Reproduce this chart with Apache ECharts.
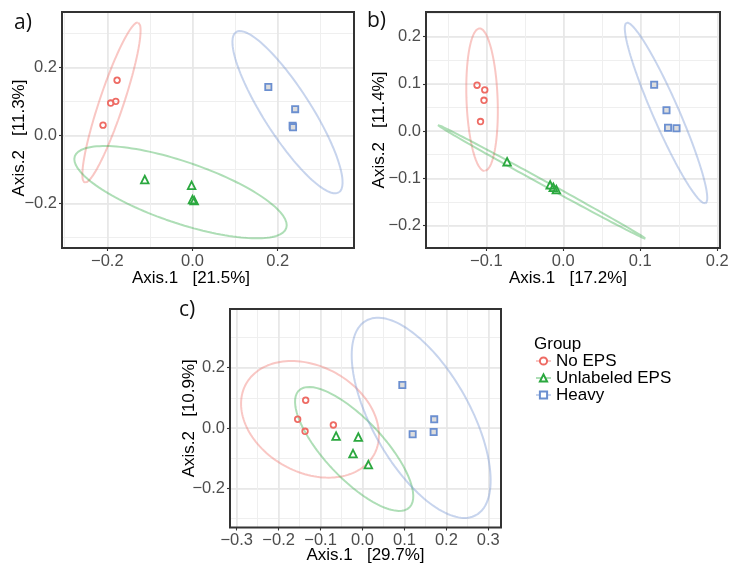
<!DOCTYPE html>
<html>
<head>
<meta charset="utf-8">
<script src="https://cdn.jsdelivr.net/npm/echarts@6/dist/echarts.min.js"></script>
<style>
  html, body { margin: 0; padding: 0; background: #ffffff; }
  #chart { width: 730px; height: 570px; }
</style>
</head>
<body>
<div id="chart"></div>
<script>
// ---- Groups ----
const groupNames = ['No EPS', 'Unlabeled EPS', 'Heavy'];

// ---- Panel a) sample scores [Axis.1, Axis.2] ----
const aNoEPS        = [[-0.177, 0.163], [-0.180, 0.101], [-0.192, 0.096], [-0.210, 0.031]];
const aUnlabeledEPS = [[-0.112, -0.129], [-0.002, -0.146], [0.000, -0.188], [0.004, -0.191]];
const aHeavy        = [[0.178, 0.143], [0.241, 0.078], [0.235, 0.029], [0.236, 0.025]];

// ---- Panel b) sample scores ----
const bNoEPS        = [[-0.112, 0.097], [-0.102, 0.087], [-0.103, 0.065], [-0.1075, 0.020]];
const bUnlabeledEPS = [[-0.073, -0.065], [-0.017, -0.114], [-0.013, -0.119], [-0.009, -0.124]];
const bHeavy        = [[0.118, 0.098], [0.134, 0.044], [0.136, 0.007], [0.147, 0.006]];

// ---- Panel c) sample scores ----
const cNoEPS        = [[-0.1355, 0.092], [-0.1546, 0.029], [-0.137, -0.011], [-0.0695, 0.010]];
const cUnlabeledEPS = [[-0.063, -0.0265], [-0.010, -0.030], [-0.0226, -0.085], [0.014, -0.1215]];
const cHeavy        = [[0.095, 0.1425], [0.1196, -0.021], [0.171, 0.0287], [0.1697, -0.0133]];

// ---- 95% ellipses: [centre x, centre y, semi-axis 1 dx, dy, semi-axis 2 dx, dy] ----
const aNoEPSEllipse        = [-0.1902, 0.0975, 0.0629, 0.2355, 0.0268, -0.0113];
const aUnlabeledEPSEllipse = [-0.0281, -0.1662, 0.2482, -0.1055, -0.0231, -0.0855];
const aHeavyEllipse        = [0.2230, 0.0691, 0.1206, -0.2358, -0.0466, -0.0375];
const bNoEPSEllipse        = [-0.1055, 0.0663, 0.00339, -0.1509, -0.0202, -0.0012];
const bUnlabeledEPSEllipse = [-0.0281, -0.1076, 0.1347, -0.1203, -0.00145, -0.00433];
const bHeavyEllipse        = [0.1334, 0.0381, 0.0513, -0.1909, -0.0154, -0.0111];
const cNoEPSEllipse        = [-0.1252, 0.0287, 0.1527, -0.1172, -0.0610, -0.1538];
const cUnlabeledEPSEllipse = [-0.0199, -0.0696, 0.1314, -0.1944, -0.0511, -0.0668];
const cHeavyEllipse        = [0.1399, 0.0337, 0.1314, -0.3223, -0.1009, -0.0796];

// ---- Axis titles and tick labels ----
const aXTitle = 'Axis.1   [21.5%]';
const aYTitle = 'Axis.2   [11.3%]';
const bXTitle = 'Axis.1   [17.2%]';
const bYTitle = 'Axis.2   [11.4%]';
const cXTitle = 'Axis.1   [29.7%]';
const cYTitle = 'Axis.2   [10.9%]';
const aXTicks = [-0.2, 0.0, 0.2];
const aYTicks = [-0.2, 0.0, 0.2];
const bXTicks = [-0.1, 0.0, 0.1, 0.2];
const bYTicks = [-0.2, -0.1, 0.0, 0.1, 0.2];
const cXTicks = [-0.3, -0.2, -0.1, 0.0, 0.1, 0.2, 0.3];
const cYTicks = [-0.2, 0.0, 0.2];

// ---- Styles ----
const FONT = 'Liberation Sans';
const pointColors   = ['#EE6B64', '#2BA83F', '#6B8FD0'];
const ellipseColors = ['rgba(238,107,100,0.38)', 'rgba(43,168,63,0.38)', 'rgba(107,143,208,0.38)'];
const pointSymbols  = ['circle', 'triangle', 'rect'];
const keySymbols    = ['emptyCircle', 'emptyTriangle', 'emptyRect'];
const pointSizes    = [5.6, 7.6, 6.2];
const pointFills    = ['rgba(255,255,255,0)', 'rgba(255,255,255,0)', '#DDDDDD'];

// ---- Panel layout ----
const panels = [
  {
    label: 'a)', labelPos: [14, 12.5],
    box: { left: 62, top: 12, width: 292, height: 236 },
    x: { min: -0.3063, max: 0.3791, major: 0.2, minor: 0.1, ticks: aXTicks, title: aXTitle, gap: 22, shift: -17 },
    y: { min: -0.3303, max: 0.3638, major: 0.2, minor: 0.1, ticks: aYTicks, title: aYTitle, gap: 34, shift: -8 },
    points: [aNoEPS, aUnlabeledEPS, aHeavy],
    ellipses: [aNoEPSEllipse, aUnlabeledEPSEllipse, aHeavyEllipse]
  },
  {
    label: 'b)', labelPos: [367, 11],
    box: { left: 426, top: 12, width: 294, height: 236 },
    x: { min: -0.1783, max: 0.2035, major: 0.1, minor: 0.05, ticks: bXTicks, title: bXTitle, gap: 22, shift: -5 },
    y: { min: -0.2476, max: 0.2519, major: 0.1, minor: 0.05, ticks: bYTicks, title: bYTitle, gap: 38, shift: 0 },
    points: [bNoEPS, bUnlabeledEPS, bHeavy],
    ellipses: [bNoEPSEllipse, bUnlabeledEPSEllipse, bHeavyEllipse]
  },
  {
    label: 'c)', labelPos: [179, 300],
    box: { left: 230, top: 309, width: 271, height: 218.5 },
    x: { min: -0.316, max: 0.3303, major: 0.1, minor: 0.05, ticks: cXTicks, title: cXTitle, gap: 19.5, shift: 0 },
    y: { min: -0.33, max: 0.3946, major: 0.2, minor: 0.1, ticks: cYTicks, title: cYTitle, gap: 32.5, shift: 0 },
    points: [cNoEPS, cUnlabeledEPS, cHeavy],
    ellipses: [cNoEPSEllipse, cUnlabeledEPSEllipse, cHeavyEllipse]
  }
];

// Outline of an ellipse given its centre and two conjugate semi-axes (data units)
function ellipseOutline(e) {
  const pts = [];
  const n = 144;
  for (let i = 0; i <= n; i++) {
    const t = 2 * Math.PI * i / n;
    const c = Math.cos(t), s = Math.sin(t);
    pts.push([e[0] + e[2] * c + e[4] * s, e[1] + e[3] * c + e[5] * s]);
  }
  return pts;
}

// Tick label text: only multiples of the major step, with a true minus sign
function tickFormatter(step) {
  return function (v) {
    const k = Math.round(v / step);
    if (Math.abs(v - k * step) > step * 1e-3) return '';
    const r = k * step;
    return (r < -1e-9 ? '\u2212' : '') + Math.abs(r).toFixed(1);
  };
}

// One pair of axes per dimension: a minor one for the fine grid, a main one for ticks, labels and title
function axisPair(dim, gridIndex, a) {
  const span = a.max - a.min;
  const minor = {
    type: 'value', gridIndex: gridIndex, min: a.min, max: a.max,
    position: dim === 'x' ? 'top' : 'right',
    splitNumber: Math.round(span / a.minor),
    minInterval: a.minor, maxInterval: a.minor,
    axisLine: { show: false, onZero: false }, axisTick: { show: false }, axisLabel: { show: false },
    splitLine: { show: true, lineStyle: { color: '#EFEFEF', width: 1 } }
  };
  const pad = a.shift < 0 ? [0, -2 * a.shift, 0, 0] : [0, 0, 0, 2 * a.shift];
  const main = {
    type: 'value', gridIndex: gridIndex, min: a.min, max: a.max,
    position: dim === 'x' ? 'bottom' : 'left',
    splitNumber: Math.round(span / a.major),
    minInterval: a.major, maxInterval: a.major,
    axisLine: { show: false, onZero: false },
    axisTick: { show: true, length: 3, customValues: a.ticks, lineStyle: { color: '#333333', width: 1.1 } },
    axisLabel: {
      customValues: a.ticks, formatter: tickFormatter(a.major),
      margin: dim === 'x' ? 4.5 : 5, color: '#4D4D4D', fontSize: 16.5, fontFamily: FONT
    },
    splitLine: { show: true, lineStyle: { color: '#E6E6E6', width: 1.5 } },
    name: a.title, nameLocation: 'middle', nameGap: a.gap, nameMoveOverlap: false,
    nameTextStyle: { color: '#000000', fontSize: 17, fontFamily: FONT, padding: pad }
  };
  return [minor, main];
}

const grids = [], xAxes = [], yAxes = [], series = [], graphics = [];

panels.forEach(function (p, pi) {
  grids.push(Object.assign({ show: false, outerBoundsMode: 'none', containLabel: false }, p.box));
  axisPair('x', pi, p.x).forEach(function (ax) { xAxes.push(ax); });
  axisPair('y', pi, p.y).forEach(function (ax) { yAxes.push(ax); });
  const axisIndex = 2 * pi + 1;

  // ellipses first so the legend keys come from them (line + point)
  p.ellipses.forEach(function (e, g) {
    series.push({
      name: groupNames[g], type: 'line', xAxisIndex: axisIndex, yAxisIndex: axisIndex,
      data: ellipseOutline(e), showSymbol: false, symbol: keySymbols[g], symbolSize: 7,
      smooth: false, silent: true, z: 2, animation: false,
      lineStyle: { color: ellipseColors[g], width: 2 },
      itemStyle: { color: pointColors[g] },
      emphasis: { disabled: true }
    });
  });
  p.points.forEach(function (pts, g) {
    series.push({
      name: groupNames[g], type: 'scatter', xAxisIndex: axisIndex, yAxisIndex: axisIndex,
      data: pts, symbol: pointSymbols[g], symbolSize: pointSizes[g], z: 3, animation: false,
      itemStyle: { color: pointFills[g], borderColor: pointColors[g], borderWidth: 1.8, opacity: 1 },
      emphasis: { disabled: true }
    });
  });

  // panel frame
  graphics.push({
    type: 'rect', silent: true, z: 100,
    shape: { x: p.box.left, y: p.box.top, width: p.box.width, height: p.box.height },
    style: { fill: 'none', stroke: '#333333', lineWidth: 2 }
  });
  // panel letter
  graphics.push({
    type: 'text', silent: true, z: 100, left: p.labelPos[0], top: p.labelPos[1],
    style: { text: p.label, fontSize: 21, fontFamily: 'Open Sans', fill: '#111111' }
  });
});

const chart = echarts.init(document.getElementById('chart'), null, { renderer: 'canvas' });
chart.setOption({
  backgroundColor: '#ffffff',
  animation: false,
  title: {
    text: 'Group', left: 534, top: 335.5, padding: 0,
    textStyle: { fontSize: 17, fontWeight: 'normal', color: '#000000', fontFamily: FONT }
  },
  legend: {
    data: groupNames, orient: 'vertical', left: 535, top: 352.5, padding: 0,
    itemWidth: 15, itemHeight: 9, itemGap: 0, selectedMode: false,
    textStyle: { fontSize: 17, color: '#000000', fontFamily: FONT, lineHeight: 16.6 }
  },
  grid: grids,
  xAxis: xAxes,
  yAxis: yAxes,
  series: series,
  graphic: graphics
});
</script>
</body>
</html>
